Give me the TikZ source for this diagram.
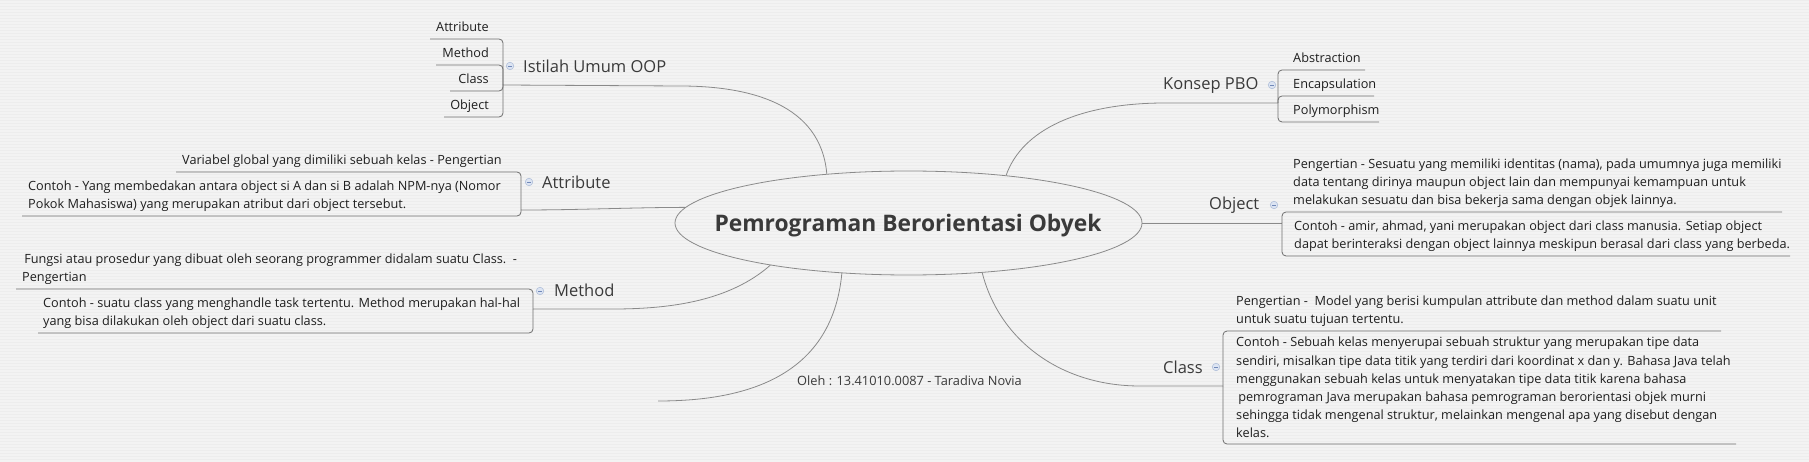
\documentclass[tikz,border=0pt]{standalone}
\usepackage{fontspec}
\setmainfont{Open Sans}
\usetikzlibrary{shapes.geometric,calc}
\definecolor{bgc}{HTML}{F3F3F3}
\definecolor{stripe}{HTML}{EDEDED}
\definecolor{cgray}{HTML}{8A8A8A}
\definecolor{ugray}{HTML}{6E6E6E}
\definecolor{tgray}{HTML}{3A3A3A}
\definecolor{icf}{HTML}{DCE4F2}
\definecolor{icb}{HTML}{A9B9D6}
\definecolor{icm}{HTML}{7088B8}
\tikzset{
  conn/.style={draw=cgray, line width=0.8pt},
  uline/.style={draw=ugray, line width=0.8pt, rounded corners=4pt},
  subtxt/.style={inner sep=0pt, font=\fontsize{12.7}{18.2}\selectfont, text=black!88, align=left, text depth=3pt, inner ysep=4pt},
  topic/.style={inner sep=0pt, font=\fontsize{16.5}{20}\selectfont, text=tgray, anchor=west},
  icon/.style={circle, draw=icb, fill=icf, line width=0.5pt, minimum size=7.5pt, inner sep=0pt,
    path picture={\draw[icm, line width=0.7pt] ([xshift=-2pt]path picture bounding box.center) -- ([xshift=2pt]path picture bounding box.center);}},
  rootshape/.style={ellipse, draw=cgray, line width=0.8pt, minimum width=467pt, minimum height=104pt, inner sep=0pt},
  titletxt/.style={inner sep=0pt, font=\bfseries\fontsize{22.8}{26}\selectfont, text=tgray},
  credit/.style={inner sep=0pt, font=\fontsize{12.8}{15}\selectfont, text=tgray, anchor=west}
}
\begin{document}
\begin{tikzpicture}[x=1pt,y=-1pt]
\useasboundingbox (0,0) rectangle (1809,462);
\fill[bgc] (0,0) rectangle (1809,462);
\foreach \i in {0,3,...,459} \fill[stripe] (0,\i) rectangle (1809,\i+1.1);

% central topic
\node[rootshape] (root) at (908.5,223) {};
\node[titletxt] (title) at (908,226) {Pemrograman Berorientasi Obyek};

% junction points
\coordinate (jI) at (503,85);
\coordinate (jA) at (521,210);
\coordinate (jM) at (533,309);
\coordinate (jK) at (1278,103);
\coordinate (jO) at (1282,223);
\coordinate (jC) at (1223,386);
\coordinate (olehend) at (658,401);

% main connectors
\draw[conn] (root.149) .. controls +(-6,-70) and +(70,0) .. ($(jI)+(177,1)$) -- (jI);
\draw[conn] (root.176) .. controls +(-50,0) and +(60,0) .. (jA);
\draw[conn] (root.197) .. controls +(-40,35) and +(60,0) .. ($(jM)+(80,0)$) -- (jM);
\draw[conn] (root.217) .. controls +(-10,107) and +(82,0) .. (olehend);
\draw[conn] (root.26) .. controls +(16,-46) and +(-85,0) .. ($(jK)+(-113,0)$) -- (jK);
\draw[conn] (root.east) -- (jO);
\draw[conn] (root.326) .. controls +(17,67) and +(-80,0) .. ($(jC)+(-83,0)$) -- (jC);

% topics
\node[topic] (tI) at (523,66) {Istilah Umum OOP};
\node[topic] (tA) at (542,182) {Attribute};
\node[topic] (tM) at (554,290) {Method};
\node[topic] (tK) at (1163,86) {Konsep PBO};
\node[topic] (tO) at (1209,205) {Object};
\node[topic] (tC) at (1163,367) {Class};

\node[icon] (iI) at (510,66) {};
\node[icon] (iA) at (529,182) {};
\node[icon] (iM) at (540,291) {};
\node[icon] (iK) at (1272,85) {};
\node[icon] (iO) at (1274,205) {};
\node[icon] (iC) at (1216,367) {};

% Istilah Umum OOP subtopics
\coordinate (uI1) at (430,39);
\coordinate (uI2) at (436,65);
\coordinate (uI3) at (450,91);
\coordinate (uI4) at (444,117);
\node[subtxt, anchor=south east] (sI1) at (489,39) {Attribute};
\node[subtxt, anchor=south east] (sI2) at (489,65) {Method};
\node[subtxt, anchor=south east] (sI3) at (489,91) {Class};
\node[subtxt, anchor=south east] (sI4) at (489,117) {Object};
\draw[uline] (jI) |- (uI1);
\draw[uline] (jI) |- (uI2);
\draw[uline] (jI) |- (uI3);
\draw[uline] (jI) |- (uI4);

% Attribute subtopics
\coordinate (uA1) at (176,172);
\coordinate (uA2) at (22,216);
\node[subtxt, anchor=south west] (sA1) at (182,172) {Variabel global yang dimiliki sebuah kelas - Pengertian};
\node[subtxt, anchor=south west] (sA2) at (28,216) {Contoh - Yang membedakan antara object si A dan si B adalah NPM-nya (Nomor\\Pokok Mahasiswa) yang merupakan atribut dari object tersebut.};
\draw[uline] (jA) |- (uA1);
\draw[uline] (jA) |- (uA2);

% Method subtopics
\coordinate (uM1) at (16,289);
\coordinate (uM2) at (38,333);
\node[subtxt, anchor=south west] (sM1) at (22,289) {\,Fungsi atau prosedur yang dibuat oleh seorang programmer didalam suatu Class.\ \ -\\Pengertian};
\node[subtxt, anchor=south west] (sM2) at (43,333) {Contoh - suatu class yang menghandle task tertentu. Method merupakan hal-hal\\yang bisa dilakukan oleh object dari suatu class.};
\draw[uline] (jM) |- (uM1);
\draw[uline] (jM) |- (uM2);

% Konsep PBO subtopics
\coordinate (uK1) at (1365,70);
\coordinate (uK2) at (1374,96);
\coordinate (uK3) at (1379,122);
\node[subtxt, anchor=south west] (sK1) at (1293,70) {Abstraction};
\node[subtxt, anchor=south west] (sK2) at (1293,96) {Encapsulation};
\node[subtxt, anchor=south west] (sK3) at (1293,122) {Polymorphism};
\draw[uline] (jK) |- (uK1);
\draw[uline] (jK) |- (uK2);
\draw[uline] (jK) |- (uK3);

% Object subtopics
\coordinate (uO1) at (1782,212);
\coordinate (uO2) at (1790,256);
\node[subtxt, anchor=south west] (sO1) at (1293,212) {Pengertian - Sesuatu yang memiliki identitas (nama), pada umumnya juga memiliki\\data tentang dirinya maupun object lain dan mempunyai kemampuan untuk\\melakukan sesuatu dan bisa bekerja sama dengan objek lainnya.};
\node[subtxt, anchor=south west] (sO2) at (1294,256) {Contoh - amir, ahmad, yani merupakan object dari class manusia. Setiap object\\dapat berinteraksi dengan object lainnya meskipun berasal dari class yang berbeda.};
\draw[uline] (jO) |- (uO1);
\draw[uline] (jO) |- (uO2);

% Class subtopics
\coordinate (uC1) at (1721,331);
\coordinate (uC2) at (1736,444);
\node[subtxt, anchor=south west] (sC1) at (1236,331) {Pengertian -\ \ Model yang berisi kumpulan attribute dan method dalam suatu unit\\untuk suatu tujuan tertentu.};
\node[subtxt, anchor=south west, inner ysep=3pt] (sC2) at (1236,444) {Contoh - Sebuah kelas menyerupai sebuah struktur yang merupakan tipe data\\sendiri, misalkan tipe data titik yang terdiri dari koordinat x dan y. Bahasa Java telah\\menggunakan sebuah kelas untuk menyatakan tipe data titik karena bahasa\\\,pemrograman Java merupakan bahasa pemrograman berorientasi objek murni\\sehingga tidak mengenal struktur, melainkan mengenal apa yang disebut dengan\\kelas.};
\draw[uline] (jC) |- (uC1);
\draw[uline] (jC) |- (uC2);

% credit
\node[credit] (oleh) at (797,381) {Oleh : 13.41010.0087 - Taradiva Novia};
\end{tikzpicture}
\end{document}
